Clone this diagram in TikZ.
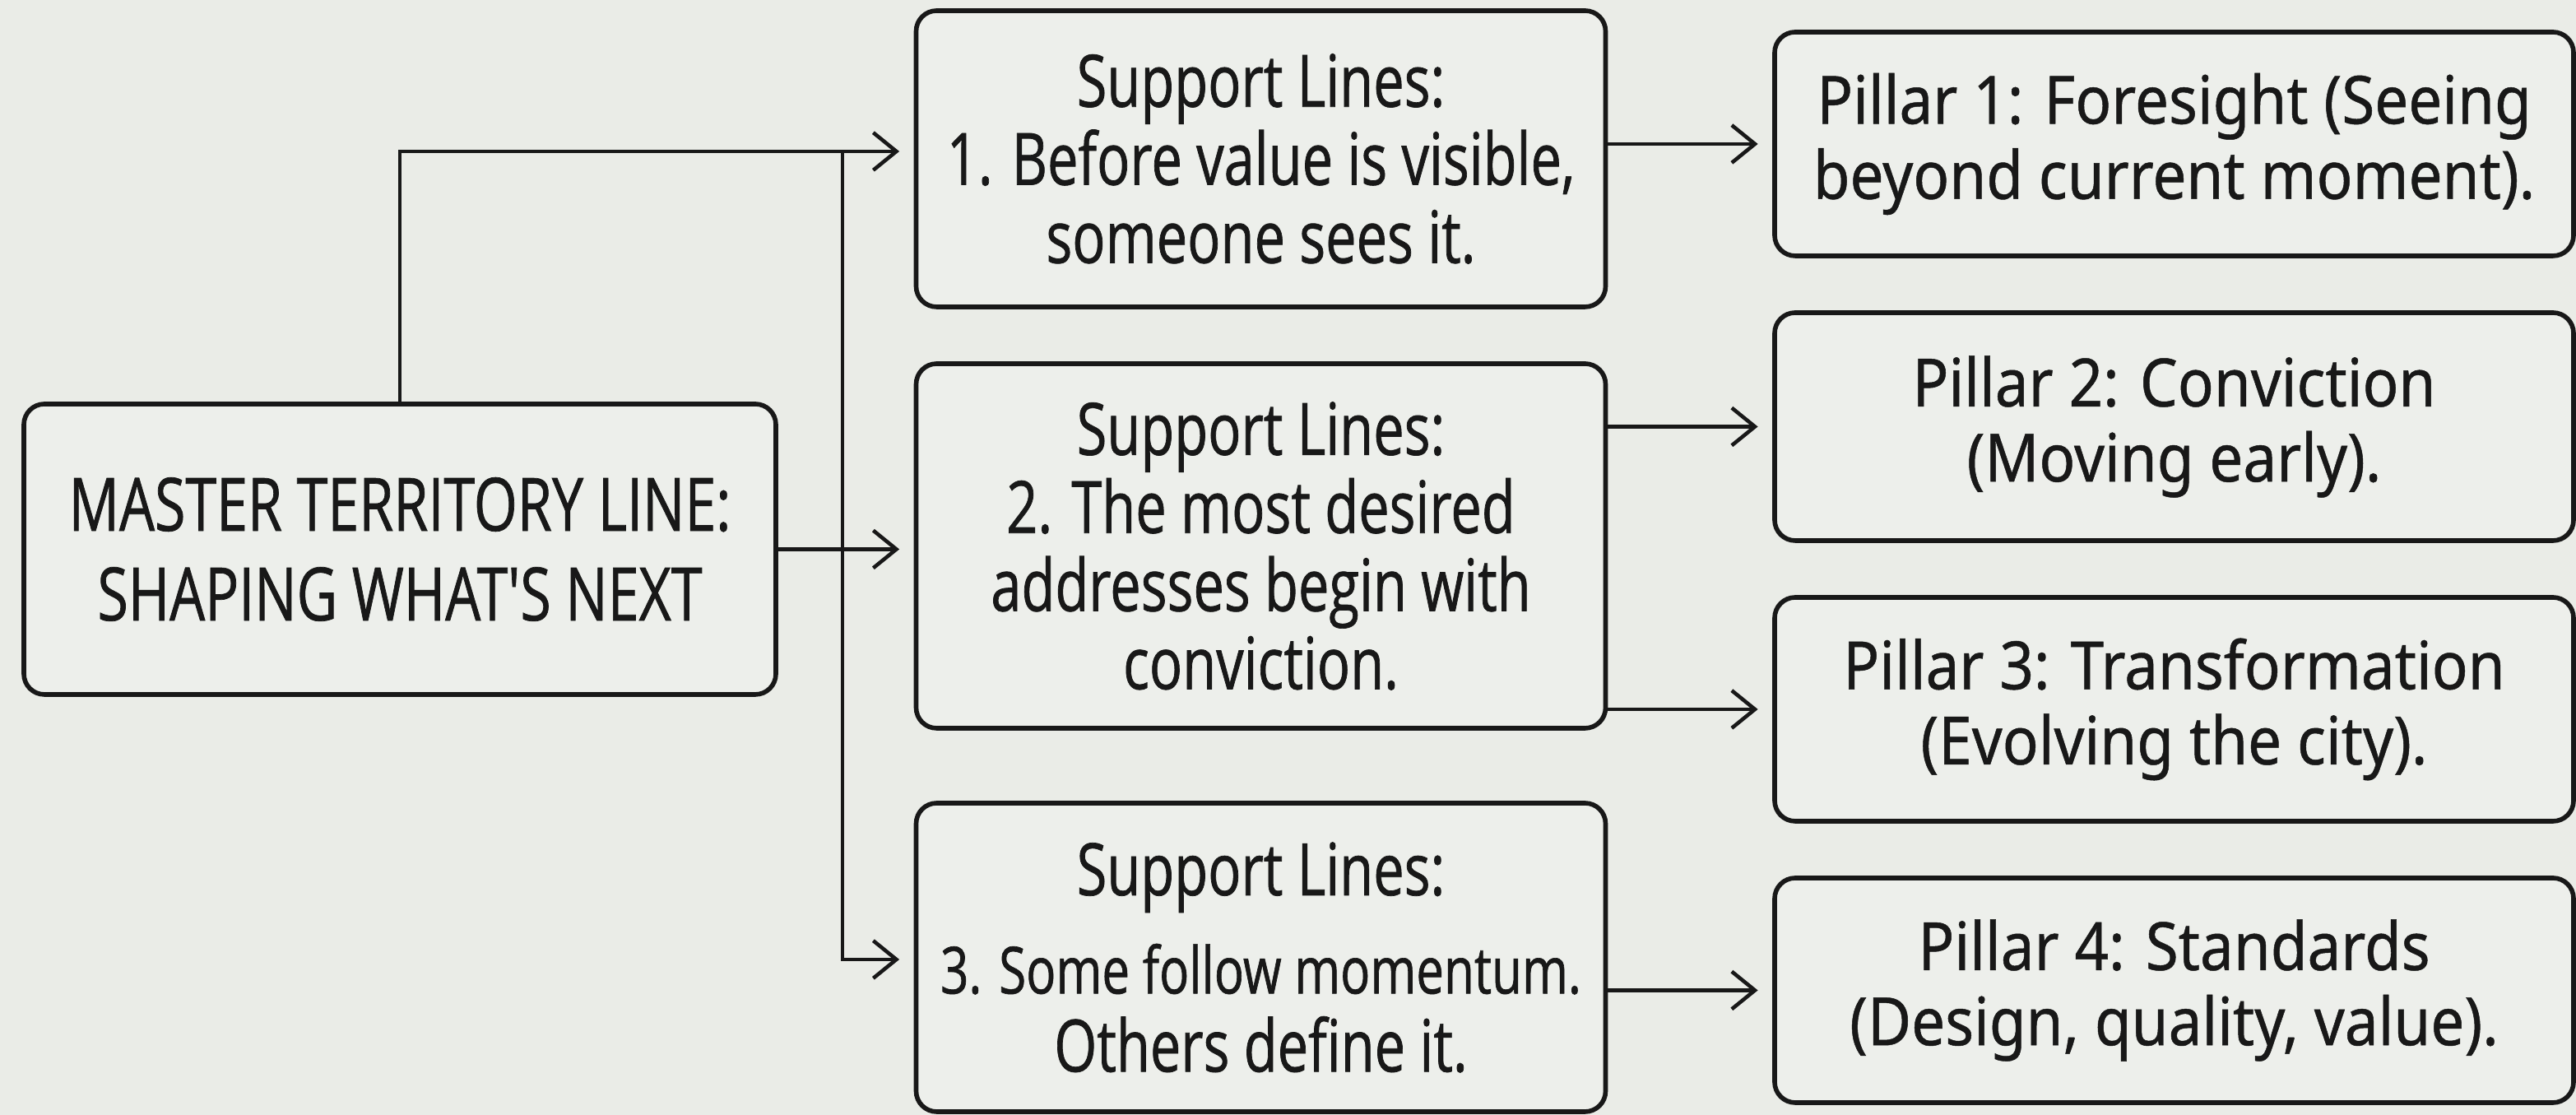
\documentclass[tikz,border=0pt]{standalone}
\usepackage{fontspec}
\usepackage{tikz}
\usetikzlibrary{arrows.meta}
\newfontfamily\condfont{Open Sans}[FakeStretch=0.76,FakeBold=0.8]
\newfontfamily\pillfont{Noto Sans}[FakeStretch=0.9,FakeBold=0.6]
\definecolor{paper}{RGB}{234,236,231}
\definecolor{boxfill}{RGB}{237,239,235}
\definecolor{ink}{RGB}{24,24,24}

\begin{document}
\begin{tikzpicture}[
    box/.style={draw=ink, line width=1.6pt, fill=boxfill, rounded corners=0.25cm, inner sep=0pt, align=center, text=ink},
    supp/.style={box, minimum width=8.38cm, font=\condfont\fontsize{25}{27}\selectfont},
    pill/.style={box, minimum width=9.71cm, font=\pillfont\fontsize{23}{26}\selectfont},
    arr/.style={draw=ink, line width=1.3pt, -{Straight Barb[length=8pt,width=13pt,line width=1.3pt]}, shorten >=5pt}
  ]
  % Background
  \fill[paper] (0,0) rectangle (31.31,13.55);
  \useasboundingbox (0,0) rectangle (31.31,13.55);
  % Master line
  \node[box, minimum width=9.14cm, minimum height=3.53cm, font=\condfont\fontsize{25.5}{31}\selectfont] (m) at (4.86,6.875)
    {MASTER TERRITORY LINE:\\SHAPING WHAT'S NEXT};
  % Support lines
  \node[supp, minimum height=3.60cm] (sb1) at (15.325,11.62)
    {Support Lines:\\1. Before value is visible,\\someone sees it.};
  \node[supp, minimum height=4.43cm] (sb2) at (15.325,6.915)
    {Support Lines:\\2. The most desired\\addresses begin with\\conviction.};
  \node[supp, minimum height=3.75cm] (sb3) at (15.325,1.915)
    {Support Lines:\\[7pt]{\fontsize{22.5}{27}\selectfont 3. Some follow momentum.}\\Others define it.};
  % Pillars
  \node[pill, minimum height=2.72cm] (p1) at (26.425,11.80)
    {Pillar 1: Foresight (Seeing\\beyond current moment).};
  \node[pill, minimum height=2.77cm] (p2) at (26.425,8.365)
    {Pillar 2: Conviction\\(Moving early).};
  \node[pill, minimum height=2.72cm] (p3) at (26.425,4.93)
    {Pillar 3: Transformation\\(Evolving the city).};
  \node[pill, minimum height=2.73cm] (p4) at (26.425,1.515)
    {Pillar 4: Standards\\(Design, quality, value).};
  % Branching
  \coordinate (split) at (10.24,11.71);
  \coordinate (low) at (10.24,1.89);
  \draw[arr] (m.north) |- (split -| sb1.west);
  \draw[arr] (split) -- (low) -- (low -| sb3.west);
  \draw[arr] (m.east) -- (m.east -| sb2.west);
  % To pillars
  \draw[arr] (p1.west -| sb1.east) -- (p1.west);
  \draw[arr] (p2.west -| sb2.east) -- (p2.west);
  \draw[arr] (p3.west -| sb2.east) -- (p3.west);
  \draw[arr] (p4.west -| sb3.east) -- (p4.west);
\end{tikzpicture}
\end{document}
